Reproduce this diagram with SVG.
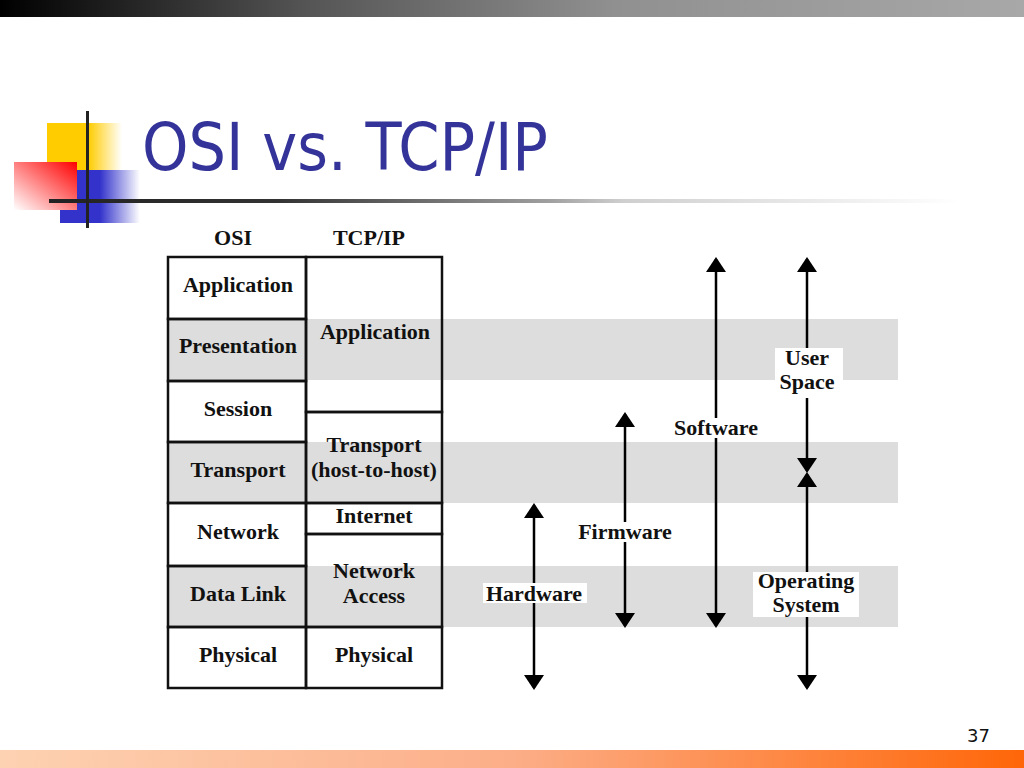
<svg xmlns="http://www.w3.org/2000/svg" width="1024" height="768" viewBox="0 0 1024 768">
<defs>
<linearGradient id="gTop" x1="0" y1="0" x2="1" y2="0">
<stop offset="0" stop-color="#000"/><stop offset="0.3" stop-color="#555"/><stop offset="0.6" stop-color="#909090"/><stop offset="1" stop-color="#a8a8a8"/>
</linearGradient>
<linearGradient id="gBot" x1="0" y1="0" x2="1" y2="0">
<stop offset="0" stop-color="#fdd2b2"/><stop offset="0.5" stop-color="#fcae88"/><stop offset="1" stop-color="#ff6608"/>
</linearGradient>
<linearGradient id="gRule" x1="0" y1="0" x2="1" y2="0">
<stop offset="0" stop-color="#222"/><stop offset="0.25" stop-color="#333"/><stop offset="0.55" stop-color="#a0a0a0"/><stop offset="0.63" stop-color="#cfcfcf"/><stop offset="1" stop-color="#fff"/>
</linearGradient>
<linearGradient id="gYel" x1="0" y1="0" x2="1" y2="0">
<stop offset="0" stop-color="#ffcc00"/><stop offset="0.55" stop-color="#ffcc00"/><stop offset="1" stop-color="#fff"/>
</linearGradient>
<linearGradient id="gBlu" x1="0" y1="0" x2="1" y2="0">
<stop offset="0" stop-color="#3333cc"/><stop offset="0.5" stop-color="#3333cc"/><stop offset="1" stop-color="#fff"/>
</linearGradient>
<linearGradient id="gRed" x1="1" y1="0" x2="0" y2="1">
<stop offset="0" stop-color="#ff0000"/><stop offset="1" stop-color="#fff"/>
</linearGradient>
<marker id="ah" markerUnits="userSpaceOnUse" markerWidth="16" markerHeight="20" refX="13" refY="10" orient="auto-start-reverse" viewBox="0 0 16 20">
<path d="M0,0 L15,10 L0,20 z" fill="#000"/>
</marker>
<style>
.t{font-family:"Liberation Serif","Times New Roman",serif;font-weight:bold;font-size:22px;text-anchor:middle;fill:#111}
.cell{fill:none;stroke:#111;stroke-width:2.5}
.band{fill:#dddddd}
.lbl{fill:#fff}
.arr{stroke:#000;stroke-width:2.5;fill:none;marker-start:url(#ah);marker-end:url(#ah)}
.arr1{stroke:#000;stroke-width:2.5;fill:none;marker-end:url(#ah)}
</style>
</defs>
<rect width="1024" height="768" fill="#fff"/>
<g id="slide-frame">
<rect x="0" y="0" width="1024" height="17" fill="url(#gTop)"/>
<rect x="0" y="750" width="1024" height="18" fill="url(#gBot)"/>
<rect x="47" y="123" width="75" height="47" fill="url(#gYel)"/>
<rect x="60" y="170" width="80" height="53" fill="url(#gBlu)"/>
<rect x="14" y="162" width="63" height="48" fill="url(#gRed)"/>
<rect x="49" y="199" width="911" height="4" fill="url(#gRule)"/>
<rect x="86" y="111" width="3" height="117" fill="#222"/>
<text x="142" y="170" font-family="'DejaVu Sans',Verdana,sans-serif" font-size="65" fill="#333399" textLength="406" lengthAdjust="spacingAndGlyphs">OSI vs. TCP/IP</text>
<text x="990" y="742" font-family="'DejaVu Sans',Tahoma,sans-serif" font-size="18" fill="#111" text-anchor="end">37</text>
</g>
<g id="bands">
<rect class="band" x="168" y="319" width="730" height="61"/>
<rect class="band" x="168" y="442" width="730" height="61"/>
<rect class="band" x="168" y="566" width="730" height="61"/>
</g>
<g id="headers">
<text class="t" x="233" y="245">OSI</text>
<text class="t" x="369" y="245">TCP/IP</text>
</g>
<g id="osi-application"><rect class="cell" x="168" y="257" width="138" height="62"/><text class="t" x="238" y="292">Application</text></g>
<g id="osi-presentation"><rect class="cell" x="168" y="319" width="138" height="62"/><text class="t" x="238" y="353">Presentation</text></g>
<g id="osi-session"><rect class="cell" x="168" y="381" width="138" height="61"/><text class="t" x="238" y="416">Session</text></g>
<g id="osi-transport"><rect class="cell" x="168" y="442" width="138" height="61"/><text class="t" x="238" y="477">Transport</text></g>
<g id="osi-network"><rect class="cell" x="168" y="503" width="138" height="63"/><text class="t" x="238" y="539">Network</text></g>
<g id="osi-datalink"><rect class="cell" x="168" y="566" width="138" height="61"/><text class="t" x="238" y="601">Data Link</text></g>
<g id="osi-physical"><rect class="cell" x="168" y="627" width="138" height="61"/><text class="t" x="238" y="662">Physical</text></g>
<g id="tcp-application"><rect class="cell" x="306" y="257" width="136" height="155"/><text class="t" x="375" y="339">Application</text></g>
<g id="tcp-transport"><rect class="cell" x="306" y="412" width="136" height="91"/><text class="t" x="374" y="452">Transport</text><text class="t" x="374" y="477">(host-to-host)</text></g>
<g id="tcp-internet"><rect class="cell" x="306" y="503" width="136" height="31"/><text class="t" x="374" y="523">Internet</text></g>
<g id="tcp-netaccess"><rect class="cell" x="306" y="534" width="136" height="93"/><text class="t" x="374" y="578">Network</text><text class="t" x="374" y="603">Access</text></g>
<g id="tcp-physical"><rect class="cell" x="306" y="627" width="136" height="61"/><text class="t" x="374" y="662">Physical</text></g>
<g id="connectors">
<line class="arr" x1="534" y1="505" x2="534" y2="688"/>
<line class="arr" x1="625" y1="414" x2="625" y2="626"/>
<line class="arr" x1="716" y1="259" x2="716" y2="626"/>
<line class="arr" x1="807" y1="259" x2="807" y2="471"/>
<line class="arr" x1="807" y1="474" x2="807" y2="688"/>
</g>
<g id="hardware"><rect class="lbl" x="483" y="583" width="104" height="20"/><text class="t" x="534" y="601">Hardware</text></g>
<g id="firmware"><rect class="lbl" x="574" y="522" width="102" height="20"/><text class="t" x="625" y="539">Firmware</text></g>
<g id="software"><rect class="lbl" x="670" y="418" width="92" height="20"/><text class="t" x="716" y="435">Software</text></g>
<g id="user-space"><rect class="lbl" x="775" y="348" width="68" height="50"/><text class="t" x="807" y="365">User</text><text class="t" x="807" y="389">Space</text></g>
<g id="operating-system"><rect class="lbl" x="753" y="572" width="106" height="45"/><text class="t" x="806" y="588">Operating</text><text class="t" x="806" y="612">System</text></g>
</svg>
